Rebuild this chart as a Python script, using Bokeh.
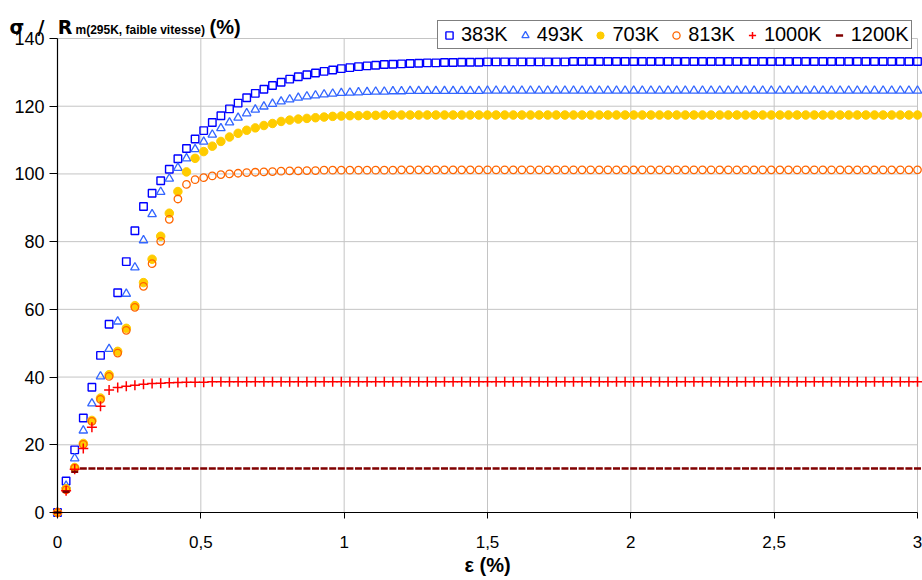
from bokeh.plotting import figure
from bokeh.models import Range1d, FixedTicker, Legend, LegendItem, Label, ColumnDataSource
from bokeh.embed import file_html
from bokeh.resources import INLINE

# strain (%) sampled every 0.03 %
strain = [0.00, 0.03, 0.06, 0.09, 0.12, 0.15, 0.18, 0.21, 0.24, 0.27,
          0.30, 0.33, 0.36, 0.39, 0.42, 0.45, 0.48, 0.51, 0.54, 0.57,
          0.60, 0.63, 0.66, 0.69, 0.72, 0.75, 0.78, 0.81, 0.84, 0.87,
          0.90, 0.93, 0.96, 0.99, 1.02, 1.05, 1.08, 1.11, 1.14, 1.17,
          1.20, 1.23, 1.26, 1.29, 1.32, 1.35, 1.38, 1.41, 1.44, 1.47,
          1.50, 1.53, 1.56, 1.59, 1.62, 1.65, 1.68, 1.71, 1.74, 1.77,
          1.80, 1.83, 1.86, 1.89, 1.92, 1.95, 1.98, 2.01, 2.04, 2.07,
          2.10, 2.13, 2.16, 2.19, 2.22, 2.25, 2.28, 2.31, 2.34, 2.37,
          2.40, 2.43, 2.46, 2.49, 2.52, 2.55, 2.58, 2.61, 2.64, 2.67,
          2.70, 2.73, 2.76, 2.79, 2.82, 2.85, 2.88, 2.91, 2.94, 2.97,
          3.00]

s383 = [0.0, 9.3, 18.5, 27.9, 37.0, 46.4, 55.6, 64.9, 74.1, 83.2,
        90.4, 94.3, 98.0, 101.4, 104.5, 107.5, 110.3, 112.8, 115.2, 117.2,
        119.2, 120.9, 122.5, 123.8, 125.0, 126.1, 127.1, 128.0, 128.7, 129.3,
        129.8, 130.3, 130.7, 131.1, 131.4, 131.7, 131.9, 132.1, 132.3, 132.4,
        132.5, 132.6, 132.7, 132.8, 132.8, 132.9, 132.9, 133.0, 133.0, 133.0,
        133.1, 133.1, 133.1, 133.1, 133.1, 133.1, 133.1, 133.1, 133.1, 133.1,
        133.2, 133.2, 133.2, 133.2, 133.2, 133.2, 133.2, 133.2, 133.2, 133.2,
        133.2, 133.2, 133.2, 133.2, 133.2, 133.2, 133.2, 133.2, 133.2, 133.2,
        133.2, 133.2, 133.2, 133.2, 133.2, 133.2, 133.2, 133.2, 133.2, 133.2,
        133.2, 133.2, 133.2, 133.2, 133.2, 133.2, 133.2, 133.2, 133.2, 133.2,
        133.2]

s493 = [0.0, 7.9, 16.0, 24.2, 32.2, 40.2, 48.3, 56.4, 64.6, 72.4,
        80.4, 88.1, 94.7, 98.6, 101.8, 104.6, 107.3, 109.5, 111.6, 113.5,
        115.2, 116.6, 117.9, 119.0, 119.9, 120.7, 121.4, 122.0, 122.5, 122.9,
        123.2, 123.5, 123.7, 123.9, 124.0, 124.1, 124.2, 124.3, 124.3, 124.4,
        124.4, 124.5, 124.5, 124.5, 124.5, 124.5, 124.5, 124.5, 124.5, 124.5,
        124.6, 124.6, 124.6, 124.6, 124.6, 124.6, 124.6, 124.6, 124.6, 124.6,
        124.6, 124.6, 124.6, 124.6, 124.6, 124.6, 124.6, 124.6, 124.6, 124.6,
        124.6, 124.6, 124.6, 124.6, 124.6, 124.6, 124.6, 124.6, 124.6, 124.6,
        124.6, 124.6, 124.6, 124.6, 124.6, 124.6, 124.6, 124.6, 124.6, 124.6,
        124.6, 124.6, 124.6, 124.6, 124.6, 124.6, 124.6, 124.6, 124.6, 124.6,
        124.6]

s703 = [0.0, 7.0, 13.3, 20.4, 27.2, 33.8, 40.7, 47.6, 54.4, 61.1,
        67.9, 74.8, 81.6, 88.4, 94.8, 100.6, 104.6, 106.6, 108.2, 109.6,
        110.9, 112.0, 112.9, 113.6, 114.3, 114.9, 115.5, 115.9, 116.2, 116.4,
        116.6, 116.8, 117.0, 117.1, 117.2, 117.2, 117.3, 117.3, 117.4, 117.4,
        117.4, 117.4, 117.4, 117.4, 117.4, 117.4, 117.4, 117.4, 117.4, 117.4,
        117.4, 117.4, 117.4, 117.4, 117.4, 117.4, 117.4, 117.4, 117.4, 117.4,
        117.4, 117.4, 117.4, 117.4, 117.4, 117.4, 117.4, 117.4, 117.4, 117.4,
        117.4, 117.4, 117.4, 117.4, 117.4, 117.4, 117.4, 117.4, 117.4, 117.4,
        117.4, 117.4, 117.4, 117.4, 117.4, 117.4, 117.4, 117.4, 117.4, 117.4,
        117.4, 117.4, 117.4, 117.4, 117.4, 117.4, 117.4, 117.4, 117.4, 117.4,
        117.4]

s813 = [0.0, 6.7, 13.1, 20.1, 26.9, 33.4, 40.2, 47.1, 53.8, 60.6,
        66.8, 73.5, 80.1, 86.6, 92.6, 96.9, 98.3, 98.9, 99.4, 99.8,
        100.0, 100.2, 100.4, 100.5, 100.6, 100.7, 100.8, 100.9, 100.9, 101.0,
        101.0, 101.1, 101.1, 101.1, 101.1, 101.1, 101.1, 101.1, 101.1, 101.1,
        101.2, 101.2, 101.2, 101.2, 101.2, 101.2, 101.2, 101.2, 101.2, 101.2,
        101.2, 101.2, 101.2, 101.2, 101.2, 101.2, 101.2, 101.2, 101.2, 101.2,
        101.2, 101.2, 101.2, 101.2, 101.2, 101.2, 101.2, 101.2, 101.2, 101.2,
        101.2, 101.2, 101.2, 101.2, 101.2, 101.2, 101.2, 101.2, 101.2, 101.2,
        101.2, 101.2, 101.2, 101.2, 101.2, 101.2, 101.2, 101.2, 101.2, 101.2,
        101.2, 101.2, 101.2, 101.2, 101.2, 101.2, 101.2, 101.2, 101.2, 101.2,
        101.2]

s1000 = [0.0, 6.4, 12.8, 18.9, 25.2, 31.4, 36.2, 36.9, 37.3, 37.6,
         37.9, 38.1, 38.2, 38.3, 38.4, 38.5, 38.5, 38.5, 38.6, 38.6,
         38.6, 38.6, 38.6, 38.6, 38.6, 38.6, 38.6, 38.6, 38.6, 38.6,
         38.6, 38.6, 38.6, 38.6, 38.6, 38.6, 38.6, 38.6, 38.6, 38.6,
         38.6, 38.6, 38.6, 38.6, 38.6, 38.6, 38.6, 38.6, 38.6, 38.6,
         38.6, 38.6, 38.6, 38.6, 38.6, 38.6, 38.6, 38.6, 38.6, 38.6,
         38.6, 38.6, 38.6, 38.6, 38.6, 38.6, 38.6, 38.6, 38.6, 38.6,
         38.6, 38.6, 38.6, 38.6, 38.6, 38.6, 38.6, 38.6, 38.6, 38.6,
         38.6, 38.6, 38.6, 38.6, 38.6, 38.6, 38.6, 38.6, 38.6, 38.6,
         38.6, 38.6, 38.6, 38.6, 38.6, 38.6, 38.6, 38.6, 38.6, 38.6,
         38.6]

s1200 = [0.0, 6.1, 12.0, 13.0, 13.0, 13.0, 13.0, 13.0, 13.0, 13.0,
         13.0, 13.0, 13.0, 13.0, 13.0, 13.0, 13.0, 13.0, 13.0, 13.0,
         13.0, 13.0, 13.0, 13.0, 13.0, 13.0, 13.0, 13.0, 13.0, 13.0,
         13.0, 13.0, 13.0, 13.0, 13.0, 13.0, 13.0, 13.0, 13.0, 13.0,
         13.0, 13.0, 13.0, 13.0, 13.0, 13.0, 13.0, 13.0, 13.0, 13.0,
         13.0, 13.0, 13.0, 13.0, 13.0, 13.0, 13.0, 13.0, 13.0, 13.0,
         13.0, 13.0, 13.0, 13.0, 13.0, 13.0, 13.0, 13.0, 13.0, 13.0,
         13.0, 13.0, 13.0, 13.0, 13.0, 13.0, 13.0, 13.0, 13.0, 13.0,
         13.0, 13.0, 13.0, 13.0, 13.0, 13.0, 13.0, 13.0, 13.0, 13.0,
         13.0, 13.0, 13.0, 13.0, 13.0, 13.0, 13.0, 13.0, 13.0, 13.0,
         13.0]

series_names = ["383K", "493K", "703K", "813K", "1000K", "1200K"]
x_ticks = [0, 0.5, 1, 1.5, 2, 2.5, 3]
x_tick_labels = ["0", "0,5", "1", "1,5", "2", "2,5", "3"]
y_ticks = [0, 20, 40, 60, 80, 100, 120, 140]
# main part of the y title, written with no-break spaces to keep its wide spacing
y_title_main = "σ\u00a0\u00a0/\u00a0\u00a0R"
y_title_sub = "m(295K, faible vitesse)"
y_title_unit = "(%)"
x_title = "ε (%)"

FONT = "Liberation Sans"

# ---- layout (pixels) ----
W, H = 922, 576
PLOT_L, PLOT_R, PLOT_T, PLOT_B = 57, 917, 38, 512
x_lo, x_hi = x_ticks[0], x_ticks[-1]
y_lo, y_hi = y_ticks[0], y_ticks[-1]
ppx = (PLOT_R - PLOT_L) / (x_hi - x_lo)
ppy = (PLOT_B - PLOT_T) / (y_hi - y_lo)

p = figure(width=W, height=H,
           x_range=Range1d(x_lo - PLOT_L / ppx, x_lo + (W - PLOT_L) / ppx),
           y_range=Range1d(y_lo - (H - PLOT_B) / ppy, y_lo + PLOT_B / ppy),
           output_backend="svg", toolbar_location=None,
           min_border_left=0, min_border_right=0, min_border_top=0, min_border_bottom=0)
p.outline_line_color = None
p.background_fill_color = "white"
p.border_fill_color = "white"
p.grid.visible = False

# grid lines at the tick positions, limited to the plot area
GRID = "#c4c4c4"
p.segment(x0=x_ticks[1:], y0=[y_lo] * (len(x_ticks) - 1), x1=x_ticks[1:],
          y1=[y_hi] * (len(x_ticks) - 1), line_color=GRID, line_width=1)
p.segment(x0=[x_lo] * (len(y_ticks) - 1), y0=y_ticks[1:], x1=[x_hi] * (len(y_ticks) - 1),
          y1=y_ticks[1:], line_color=GRID, line_width=1)

p.xaxis.ticker = FixedTicker(ticks=x_ticks)
p.xaxis.major_label_overrides = {t: l for t, l in zip(x_ticks, x_tick_labels)}
p.yaxis.ticker = FixedTicker(ticks=y_ticks)
p.xaxis.fixed_location = y_lo
p.yaxis.fixed_location = x_lo
p.xaxis.bounds = (x_lo, x_hi)
p.yaxis.bounds = (y_lo, y_hi)

for ax in (p.xaxis[0], p.yaxis[0]):
    ax.axis_line_color = "black"
    ax.axis_line_width = 1.2
    ax.major_tick_line_color = "black"
    ax.major_tick_in = 0
    ax.minor_tick_line_color = None
    ax.major_label_text_font = FONT
    ax.major_label_text_color = "black"

p.xaxis.major_label_text_font_size = "17px"
p.yaxis.major_label_text_font_size = "18px"
p.xaxis.major_tick_out = 6
p.xaxis.major_label_standoff = 17
p.yaxis.major_tick_out = 8
p.yaxis.major_label_standoff = 5

p.xaxis.axis_label = x_title
p.xaxis.axis_label_text_font = FONT
p.xaxis.axis_label_text_font_style = "bold"
p.xaxis.axis_label_text_font_size = "20px"
p.xaxis.axis_label_text_color = "black"
p.xaxis.axis_label_standoff = 3

src = ColumnDataSource(dict(x=strain, a=s383, b=s493, c=s703, d=s813, e=s1000, f=s1200))

r1 = p.scatter("x", "a", source=src, marker="square", size=7.5, fill_color=None,
               line_color="#0000FF", line_width=1.4)
r2 = p.scatter("x", "b", source=src, marker="triangle", size=8.5, fill_color=None,
               line_color="#3366FF", line_width=1.3)
r3 = p.scatter("x", "c", source=src, marker="circle", size=8.5, fill_color="#FFCC00",
               line_color="#FFCC00", line_width=1)
r4 = p.scatter("x", "d", source=src, marker="circle", size=7.5, fill_color=None,
               line_color="#FF6600", line_width=1.3)
r5 = p.scatter("x", "e", source=src, marker="cross", size=10, line_color="#FF0000",
               line_width=1.5)
r6 = p.scatter("x", "f", source=src, marker="dash", size=7, line_color="#800000",
               line_width=2.5)

legend = Legend(items=[LegendItem(label=n, renderers=[r]) for n, r in
                       zip(series_names, [r1, r2, r3, r4, r5, r6])],
                orientation="horizontal", location=(437, H - 49),
                border_line_color="black", border_line_width=1.2,
                background_fill_color="white", background_fill_alpha=1,
                label_text_font=FONT, label_text_font_size="20px",
                label_text_color="black",
                glyph_width=18, glyph_height=18, label_standoff=3, spacing=8,
                padding=2, margin=0, label_height=18)
p.add_layout(legend, "center")

title_specs = [(y_title_main, 9, 26, "19px", "DejaVu Sans"),
               (y_title_sub, 75, 29, "12px", FONT),
               (y_title_unit, 209, 26, "20px", FONT)]
for txt, tx, base, fs, fnt in title_specs:
    p.add_layout(Label(x=tx, y=H - base, x_units="screen", y_units="screen", text=txt,
                       text_font=fnt, text_font_style="bold", text_font_size=fs,
                       text_color="black", text_baseline="alphabetic"))

open("out.html", "w").write(file_html(p, INLINE))
